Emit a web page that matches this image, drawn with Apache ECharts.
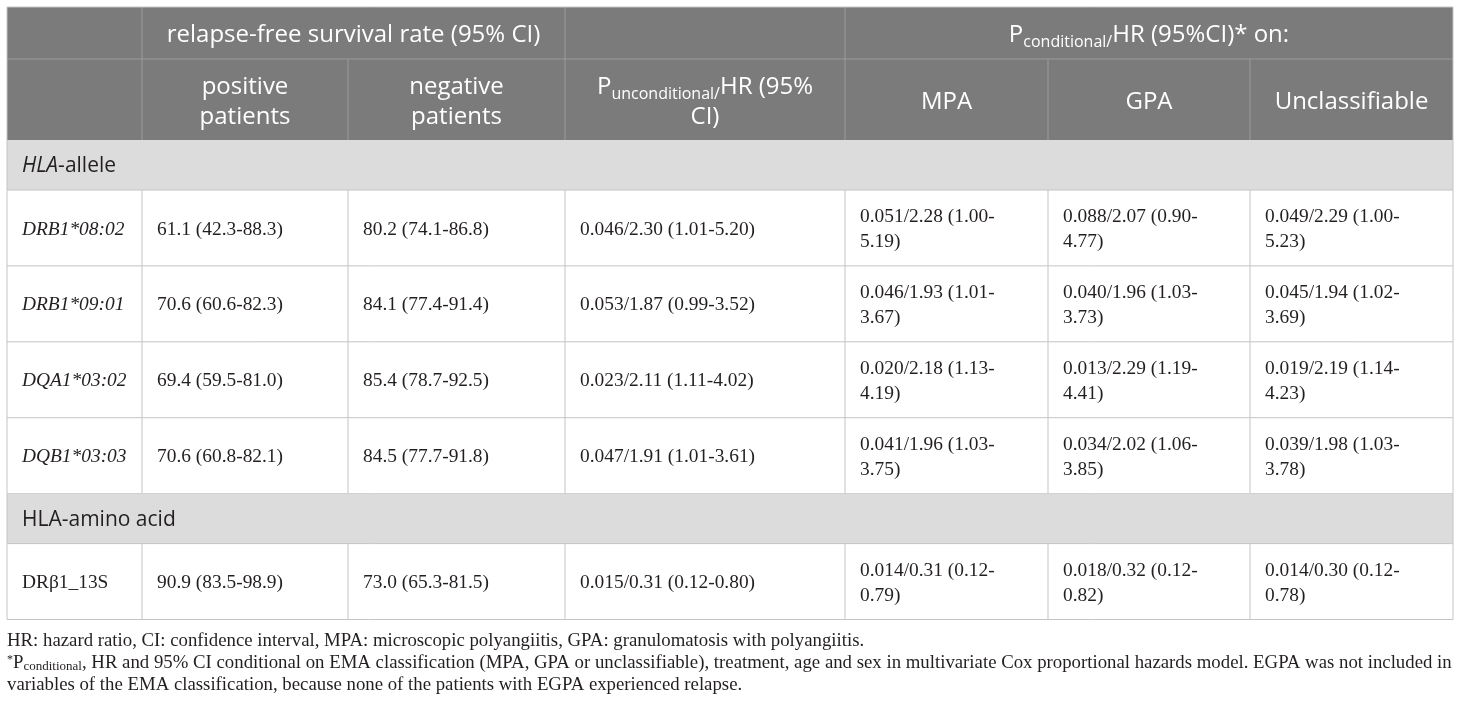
<!DOCTYPE html>
<html>
<head>
<meta charset="utf-8">
<title>HLA relapse-free survival table</title>
<script src="https://cdn.jsdelivr.net/npm/echarts@6/dist/echarts.min.js"></script>
<style>
  html, body { margin: 0; padding: 0; background: #fff; }
  #table { width: 1460px; height: 707px; }
</style>
</head>
<body>
<div id="table"></div>
<script>
// ---- data ----
const sectionTitles = ['HLA-allele', 'HLA-amino acid'];
const alleleNames = ['DRB1*08:02', 'DRB1*09:01', 'DQA1*03:02', 'DQB1*03:03'];
const aminoNames = ['DRβ1_13S'];
const positiveRate = ['61.1 (42.3-88.3)', '70.6 (60.6-82.3)', '69.4 (59.5-81.0)', '70.6 (60.8-82.1)', '90.9 (83.5-98.9)'];
const negativeRate = ['80.2 (74.1-86.8)', '84.1 (77.4-91.4)', '85.4 (78.7-92.5)', '84.5 (77.7-91.8)', '73.0 (65.3-81.5)'];
const unconditional = ['0.046/2.30 (1.01-5.20)', '0.053/1.87 (0.99-3.52)', '0.023/2.11 (1.11-4.02)', '0.047/1.91 (1.01-3.61)', '0.015/0.31 (0.12-0.80)'];
const mpaValues = ['0.051/2.28 (1.00-5.19)', '0.046/1.93 (1.01-3.67)', '0.020/2.18 (1.13-4.19)', '0.041/1.96 (1.03-3.75)', '0.014/0.31 (0.12-0.79)'];
const gpaValues = ['0.088/2.07 (0.90-4.77)', '0.040/1.96 (1.03-3.73)', '0.013/2.29 (1.19-4.41)', '0.034/2.02 (1.06-3.85)', '0.018/0.32 (0.12-0.82)'];
const unclValues = ['0.049/2.29 (1.00-5.23)', '0.045/1.94 (1.02-3.69)', '0.019/2.19 (1.14-4.23)', '0.039/1.98 (1.03-3.78)', '0.014/0.30 (0.12-0.78)'];
const footnote1 = 'HR: hazard ratio, CI: confidence interval, MPA: microscopic polyangiitis, GPA: granulomatosis with polyangiitis.';
const footnote2 = ', HR and 95% CI conditional on EMA classification (MPA, GPA or unclassifiable), treatment, age and sex in multivariate Cox proportional hazards model. EGPA was not included in';
const footnote3 = 'variables of the EMA classification, because none of the patients with EGPA experienced relapse.';

// ---- layout ----
const colX = [7, 142, 348, 565, 845, 1048, 1250, 1453];
const topY = 7, head1Y = 59, headY = 140;
const sectionH = 50, dataH = 75.9;
const pad = 15;
const sans = '"Open Sans", sans-serif';
const serif = '"Liberation Serif", "Times New Roman", serif';
const headBg = '#7b7b7b', headLine = '#9c9c9c', sectionBg = '#dcdcdc', gridLine = '#c4c4c4';
const ink = '#231f20';
const bodySize = 19.4, noteSize = 18.8, headSize = 24, secSize = 21;

const ctx = document.createElement('canvas').getContext('2d');
ctx.font = bodySize + 'px ' + serif;

// split a value after its last hyphen when it does not fit the cell
function wrapCell(text, width) {
  if (ctx.measureText(text).width <= width - 2 * pad - 10) return text;
  const k = text.lastIndexOf('-');
  return text.slice(0, k + 1) + '\n' + text.slice(k + 1);
}

const g = [];
function line(x1, y1, x2, y2, color) {
  g.push({ type: 'line', shape: { x1: x1, y1: y1, x2: x2, y2: y2 }, style: { stroke: color, lineWidth: 1 }, silent: true });
}
function rect(x, y, w, h, color) {
  g.push({ type: 'rect', shape: { x: x, y: y, width: w, height: h }, style: { fill: color }, silent: true });
}
function text(t, x, y, opt) {
  g.push({ type: 'text', silent: true, style: Object.assign({
    text: t, x: x, y: y, fill: ink, fontSize: bodySize, fontFamily: serif,
    align: 'left', verticalAlign: 'middle', lineHeight: 25
  }, opt) });
}

const left = colX[0], right = colX[colX.length - 1];

// header block
rect(left, topY, right - left, headY - topY, headBg);
line(left, head1Y, right, head1Y, headLine);
[1, 3, 4].forEach(i => line(colX[i], topY, colX[i], headY, headLine));
[2, 5, 6].forEach(i => line(colX[i], head1Y, colX[i], headY, headLine));

const headRich = {
  n: { fontFamily: sans, fontSize: headSize, fill: '#fff', lineHeight: 30 },
  s: { fontFamily: sans, fontSize: 16, fill: '#fff', lineHeight: 20, verticalAlign: 'bottom' }
};
const h1Mid = 35, h2Mid = 102;
text('{n|relapse-free survival rate (95% CI)}', (colX[1] + colX[3]) / 2, h1Mid, { align: 'center', rich: headRich });
text('{n|P}{s|conditional/}{n|HR (95%CI)* on:}', (colX[4] + colX[7]) / 2, h1Mid, { align: 'center', rich: headRich });
const head2 = ['{n|positive}\n{n|patients}', '{n|negative}\n{n|patients}', '{n|P}{s|unconditional/}{n|HR (95%}\n{n|CI)}', '{n|MPA}', '{n|GPA}', '{n|Unclassifiable}'];
head2.forEach((t, i) => text(t, (colX[i + 1] + colX[i + 2]) / 2, h2Mid, { align: 'center', rich: headRich }));

// body rows
const valueCols = [positiveRate, negativeRate, unconditional, mpaValues, gpaValues, unclValues];
const groups = [alleleNames, aminoNames];
let y = headY, r = 0;
groups.forEach((names, gi) => {
  rect(left, y, right - left, sectionH, sectionBg);
  const secRich = {
    i: { fontFamily: sans, fontSize: secSize, fontStyle: 'italic', fill: ink },
    n: { fontFamily: sans, fontSize: secSize, fill: ink }
  };
  const sec = gi === 0 ? '{i|HLA}{n|-allele}' : '{n|' + sectionTitles[1] + '}';
  text(sec, left + pad, y + sectionH / 2 + 1, { rich: secRich });
  line(left, y + sectionH, right, y + sectionH, gridLine);
  y += sectionH;
  names.forEach(name => {
    const mid = y + dataH / 2 + 1.5;
    text(name, colX[0] + pad, mid, { fontStyle: gi === 0 ? 'italic' : 'normal' });
    valueCols.forEach((col, c) => {
      const w = colX[c + 2] - colX[c + 1];
      text(wrapCell(col[r], w), colX[c + 1] + pad, mid);
    });
    for (let i = 1; i < colX.length - 1; i++) line(colX[i], y, colX[i], y + dataH, gridLine);
    line(left, y + dataH, right, y + dataH, gridLine);
    y += dataH;
    r++;
  });
});
// outer border
line(left, topY, right, topY, gridLine);
line(left, topY, left, y, gridLine);
line(right, topY, right, y, gridLine);

// footnotes
const fy = y + 22, noteGap = 22;
text(footnote1, left, fy, { fontSize: noteSize });
text('{sup|*}{n|P}{sub|conditional}{n|' + footnote2 + '}', left, fy + noteGap, {
  rich: {
    sup: { fontFamily: serif, fontSize: 12, fill: ink, verticalAlign: 'top', lineHeight: 20 },
    n: { fontFamily: serif, fontSize: noteSize, fill: ink, lineHeight: 20 },
    sub: { fontFamily: serif, fontSize: 13, fill: ink, verticalAlign: 'bottom', lineHeight: 13 }
  }
});
text(footnote3, left, fy + 2 * noteGap, { fontSize: noteSize });

const chart = echarts.init(document.getElementById('table'), null, { renderer: 'canvas' });
chart.setOption({
  backgroundColor: '#fff',
  animation: false,
  graphic: { elements: g }
});
</script>
</body>
</html>
